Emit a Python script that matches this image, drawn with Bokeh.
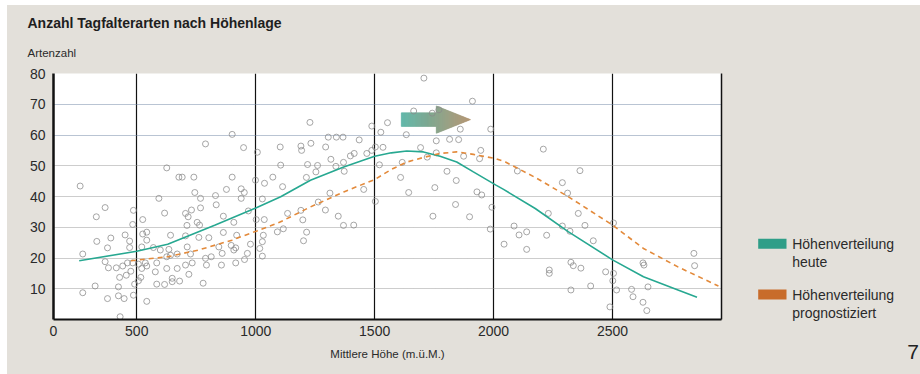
import numpy as np
from bokeh.plotting import figure
from bokeh.models import FixedTicker, Grid, LinearAxis, Spacer, Range1d
from bokeh.layouts import column, row
from bokeh.core.properties import value
from bokeh.embed import file_html
from bokeh.resources import INLINE

# ---------------- data ----------------
TITLE = "Anzahl Tagfalterarten nach Höhenlage"
Y_TITLE = "Artenzahl"
X_TITLE = "Mittlere Höhe (m.ü.M.)"
LEGEND_LABELS = ["Höhenverteilung\nheute", "Höhenverteilung\nprognostiziert"]
PAGE_NO = "7"

X_START, X_END = 150, 2958
Y_START, Y_END = 0, 80
X_TICKS = [150, 500, 1000, 1500, 2000, 2500]
X_TICK_LABELS = {150: "0"}
Y_TICKS = [10, 20, 30, 40, 50, 60, 70, 80]
Y_GRID_GREY = [10, 20, 30, 40, 50]
Y_GRID_BLUE = [60, 70, 80]

# observed sites: mean altitude (m) / number of species
site_alt = [626, 262, 593, 367, 330, 486, 617, 525, 483, 391, 332, 451, 470, 377, 470, 525, 542, 542, 521, 570,
            273, 367, 381, 414, 441, 461, 483, 507, 536, 521, 542, 578, 584, 475, 456, 428, 517, 491, 423, 325,
            273, 584, 617, 507, 377, 423, 447, 486, 542, 430, 599, 626,
            901, 789, 949, 1007, 677, 691, 740, 901, 999, 1037, 1072, 1105, 744, 768, 877, 831, 939, 952, 939, 1028,
            834, 768, 730, 705, 716, 969, 864, 754, 764, 908, 1002, 1036, 1091, 711, 642, 705, 761, 803, 864, 920,
            845, 897, 908, 916, 978, 1032, 1028, 1017, 712, 635, 670, 726, 642, 789, 813, 859, 965, 953, 916, 1028,
            705, 733, 793, 856, 670, 626, 719, 649, 649, 680, 779,
            1228, 1488, 1554, 1526, 1305, 1339, 1367, 1435, 1103, 1190, 1193, 1232, 1294, 1503, 1535, 1467, 1488,
            1414, 1398, 1316, 1369, 1218, 1260, 1337, 1520, 1372, 1253, 1213, 1113, 1454, 1312, 1263, 1503, 1293,
            1190, 1134, 1347, 1198, 1369, 1412, 1116, 1214, 1201,
            1707, 1911, 1664, 1742, 1770, 1860, 1988, 1633, 1759, 1815, 1853, 1693, 1759, 1721, 1874, 1946, 1941,
            1616, 1804, 1609, 1843, 1753, 1643, 1930, 1950, 1840, 1993, 1745, 1899, 1986, 2044,
            2209, 2100, 2363, 2289, 2311, 2230, 2356, 2504, 2086, 2139, 2107, 2289, 2321, 2384, 2223, 2139, 2419,
            2325, 2335, 2367, 2234, 2234, 2471, 2504, 2501, 2408, 2325, 2489, 2517,
            2842, 2845, 2628, 2632, 2580, 2586, 2649, 2628, 2644]
site_species = [49.3, 43.4, 39.4, 36.4, 33.4, 35.5, 34.6, 32.5, 30.9, 26.5, 25.4, 27.5, 25.5, 23.3, 23.4, 27.8, 28.4, 25.8, 23.6, 23.4,
                21.3, 18.8, 16.8, 16.8, 17.4, 18.4, 18.4, 18.0, 18.4, 16.6, 17.4, 15.5, 18.4, 15.7, 14.4, 13.7, 13.7, 11.5, 10.6, 10.9,
                8.7, 11.5, 11.4, 12.6, 6.8, 7.7, 6.8, 7.9, 5.9, 0.9, 22.6, 20.4,
                60.2, 57.1, 55.9, 54.4, 46.3, 46.3, 46.3, 46.3, 45.3, 44.3, 46.3, 50.2, 41.3, 39.4, 42.3, 40.3, 42.5, 41.3, 39.4, 39.2,
                37.3, 36.3, 35.6, 34.5, 33.4, 35.3, 33.6, 31.6, 30.7, 31.6, 32.5, 32.5, 28.5, 30.6, 27.4, 27.2, 26.7, 26.6, 28.3, 27.4,
                23.6, 24.1, 22.6, 23.3, 24.5, 27.4, 25.3, 23.1, 23.6, 22.8, 21.3, 21.3, 20.9, 19.9, 20.4, 21.5, 21.5, 19.5, 18.4, 20.6,
                17.7, 18.4, 17.7, 17.7, 16.6, 16.6, 14.7, 13.4, 12.3, 12.5, 11.8,
                64.1, 62.9, 64.0, 60.9, 59.3, 59.3, 59.3, 58.4, 56.1, 56.4, 55.0, 57.3, 56.1, 56.1, 56.0, 54.0, 55.0,
                54.0, 53.2, 52.1, 51.1, 50.4, 50.1, 49.8, 50.3, 48.2, 48.0, 46.2, 43.2, 42.3, 41.1, 38.2, 38.4, 35.6,
                35.5, 34.5, 33.6, 32.4, 30.6, 30.7, 29.5, 28.4, 25.6,
                78.5, 71.0, 67.8, 67.1, 68.2, 61.9, 61.9, 60.1, 58.1, 58.6, 58.5, 55.9, 54.2, 52.8, 53.1, 55.0, 52.3,
                51.1, 48.2, 46.2, 45.2, 42.9, 41.3, 41.5, 40.5, 37.4, 36.5, 33.6, 33.4, 29.4, 24.5,
                55.4, 48.3, 48.4, 44.5, 41.1, 34.5, 34.5, 31.4, 30.4, 28.5, 27.5, 30.4, 28.7, 30.6, 27.4, 22.8, 25.6,
                18.6, 17.5, 16.7, 16.1, 15.0, 15.5, 15.0, 12.6, 10.9, 9.6, 4.1, 9.6,
                21.5, 17.5, 18.4, 17.7, 9.8, 7.4, 10.6, 5.6, 2.9]

# today's altitude distribution (fitted curve)
today_alt = [258, 500, 630, 830, 1005, 1105, 1230, 1370, 1500, 1570, 1635, 1705, 1775, 1845, 1915, 2010, 2040,
             2175, 2315, 2500, 2630, 2775, 2855]
today_val = [19.1, 22.2, 24.5, 30.7, 36.4, 39.9, 45.3, 49.6, 53.1, 54.2, 54.8, 54.5, 53.1, 51.2, 48.0, 43.7, 42.4,
             36.1, 28.5, 19.4, 13.9, 9.6, 7.2]

# forecast altitude distribution
forecast_alt = [475, 630, 760, 900, 1005, 1100, 1230, 1370, 1500, 1570, 1635, 1705, 1775, 1845, 1915, 2010, 2050,
                2175, 2315, 2500, 2630, 2775, 2945]
forecast_val = [19.1, 20.4, 22.6, 25.8, 28.8, 31.6, 36.6, 41.5, 45.5, 48.8, 51.2, 52.7, 54.0, 54.5, 53.7, 52.3, 51.2,
                46.2, 39.9, 30.7, 23.1, 17.1, 10.9]

# shift arrow (data units)
ARROW_X0, ARROW_HEAD_X, ARROW_TIP = 1612, 1759, 1903
ARROW_Y, ARROW_BODY_H, ARROW_HEAD_H = 65.0, 2.2, 4.45
ARROW_C0, ARROW_C1 = (92, 182, 168), (178, 146, 110)

# ---------------- style ----------------
BG = "#e3e0da"
TEAL_LINE, ORANGE_LINE = "#27a891", "#e38a3b"
TEAL_SW, ORANGE_SW = "#2f9e88", "#c86c2b"
FONT = "Liberation Sans"
TXT = "#2a2a2a"


def blank_fig(w, h):
    f = figure(width=w, height=h, x_range=Range1d(0, w), y_range=Range1d(h, 0), title=None,
               x_axis_type=None, y_axis_type=None, output_backend="svg", toolbar_location=None,
               min_border=0, min_border_left=0, min_border_right=0, min_border_top=0, min_border_bottom=0)
    f.grid.visible = False
    f.background_fill_color = BG
    f.border_fill_color = BG
    f.outline_line_color = None
    f.frame_align = False
    return f


def txt(f, x, y, s, size, style="normal", color=TXT):
    # y is the visual (cap) centre of the text line
    f.text(x=[x], y=[y], text=[s], text_font=value(FONT), text_font_size=value(size),
           text_font_style=style, text_color=color, text_baseline="middle", text_align="left")


# ---------------- header (title + y label) ----------------
head = blank_fig(913, 58)
txt(head, 20, 17.8, TITLE, "14px", style="bold", color="#1e1e1e")
txt(head, 20, 47.0, Y_TITLE, "11.5px")

# ---------------- main chart ----------------
p = figure(width=722, height=311, x_range=(X_START, X_END), y_range=(Y_START, Y_END), title=None,
           output_backend="svg", toolbar_location=None,
           min_border_left=46, min_border_right=8, min_border_top=10, min_border_bottom=55)
p.frame_align = False
p.background_fill_color = "white"
p.border_fill_color = BG
p.outline_line_color = None

p.xaxis.ticker = FixedTicker(ticks=X_TICKS)
p.xaxis.major_label_overrides = X_TICK_LABELS
p.yaxis.ticker = FixedTicker(ticks=Y_TICKS)
for ax in (p.xaxis[0], p.yaxis[0]):
    ax.major_tick_line_color = None
    ax.minor_tick_line_color = None
    ax.major_tick_out = 0
    ax.major_tick_in = 0
    ax.axis_line_color = "#111111"
    ax.major_label_text_font = FONT
    ax.major_label_text_font_size = "14px"
    ax.major_label_text_color = TXT
p.yaxis.axis_line_width = 2.5
p.xaxis.axis_line_width = 2
p.yaxis.major_label_standoff = 8
p.xaxis.major_label_standoff = 6
p.xaxis.axis_label = X_TITLE
p.xaxis.axis_label_text_font = FONT
p.xaxis.axis_label_text_font_size = "11.5px"
p.xaxis.axis_label_text_font_style = "normal"
p.xaxis.axis_label_text_color = TXT
p.xaxis.axis_label_standoff = 9

right_ax = LinearAxis(ticker=FixedTicker(ticks=[]), axis_line_color="#111111", axis_line_width=1.5,
                      major_tick_line_color=None, minor_tick_line_color=None,
                      major_tick_out=0, major_tick_in=0, major_label_standoff=0,
                      major_label_text_font_size="0px")
p.add_layout(right_ax, "right")

p.xgrid.ticker = FixedTicker(ticks=X_TICKS[1:])
p.xgrid.grid_line_color = "#111111"
p.xgrid.grid_line_width = 1.2
p.ygrid.ticker = FixedTicker(ticks=Y_GRID_GREY)
p.ygrid.grid_line_color = "#9a9a9a"
p.ygrid.grid_line_dash = "1 1"
p.ygrid.grid_line_width = 1
p.add_layout(Grid(dimension=1, ticker=FixedTicker(ticks=Y_GRID_BLUE), grid_line_color="#7288a6",
                  grid_line_dash="1 1", grid_line_width=1))

# gradient arrow built from thin slices
n_slices = 70
edges = np.linspace(ARROW_X0, ARROW_TIP, n_slices + 1)


def half_h(x):
    if x <= ARROW_HEAD_X:
        return ARROW_BODY_H
    return ARROW_HEAD_H * (ARROW_TIP - x) / (ARROW_TIP - ARROW_HEAD_X)


xs, ys, cols = [], [], []
for i in range(n_slices):
    xa, xb = edges[i], edges[i + 1]
    t = (0.5 * (xa + xb) - ARROW_X0) / (ARROW_TIP - ARROW_X0)
    c = tuple(int(round(a + (b - a) * t)) for a, b in zip(ARROW_C0, ARROW_C1))
    cols.append("#%02x%02x%02x" % c)
    if xa < ARROW_HEAD_X < xb:
        ha, hb = half_h(xa), half_h(xb)
        pts_x = [xa, ARROW_HEAD_X, ARROW_HEAD_X, xb, xb, ARROW_HEAD_X, ARROW_HEAD_X, xa]
        pts_y = [ARROW_Y - ha, ARROW_Y - ha, ARROW_Y - ARROW_HEAD_H, ARROW_Y - hb,
                 ARROW_Y + hb, ARROW_Y + ARROW_HEAD_H, ARROW_Y + ha, ARROW_Y + ha]
    else:
        ha = half_h(xa) if xa != ARROW_HEAD_X else ARROW_HEAD_H
        hb = half_h(xb)
        pts_x = [xa, xb, xb, xa]
        pts_y = [ARROW_Y - ha, ARROW_Y - hb, ARROW_Y + hb, ARROW_Y + ha]
    xs.append(pts_x)
    ys.append(pts_y)
p.patches(xs, ys, fill_color=cols, line_color=cols, line_width=0.6)

p.scatter(site_alt, site_species, marker="circle", size=6, fill_color=None,
          line_color="#8a8a8a", line_alpha=0.85, line_width=0.9)

p.line(today_alt, today_val, line_color=TEAL_LINE, line_width=1.6)
p.line(forecast_alt, forecast_val, line_color=ORANGE_LINE, line_width=1.6, line_dash="5 4")

# ---------------- side panel (legend + page number) ----------------
side = blank_fig(191, 311)
sw_tops = [175.3, 226.0]
for col, top, lab in zip([TEAL_SW, ORANGE_SW], sw_tops, LEGEND_LABELS):
    side.quad(left=[28.7], right=[57], top=[top], bottom=[top + 10], fill_color=col, line_color=None)
    l1, l2 = lab.split("\n")
    txt(side, 62.7, top + 5, l1, "14px")
    txt(side, 62.7, top + 23.4, l2, "14px")
txt(side, 177.7, 288.7, PAGE_NO, "21px", color="#222222")

bg_style = {"background-color": BG}
inner = column(head, row(p, side, styles=bg_style), styles=bg_style)
layout = column(Spacer(height=5, width=920),
                row(Spacer(width=7, height=369), inner))

open("out.html", "w").write(file_html(layout, INLINE))
